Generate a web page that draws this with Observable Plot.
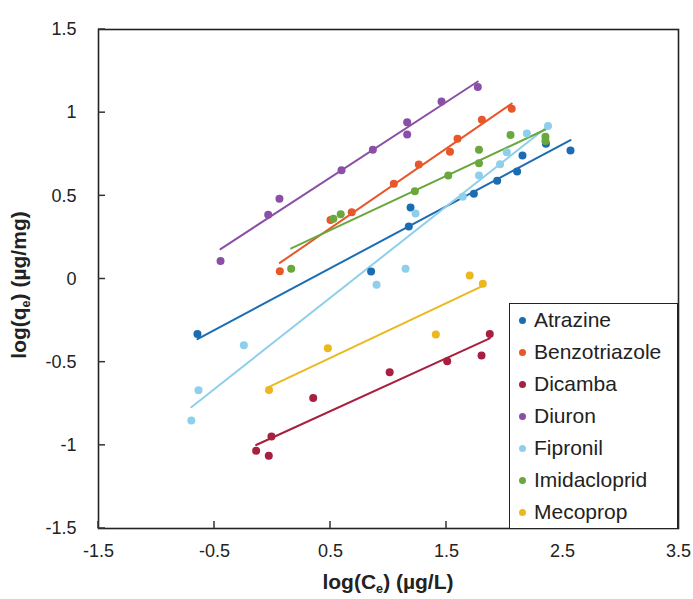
<!DOCTYPE html>
<html><head><meta charset="utf-8">
<script src="https://cdn.jsdelivr.net/npm/d3@7"></script>
<script src="https://cdn.jsdelivr.net/npm/@observablehq/plot@0.6"></script>
<style>
body{margin:0;background:#fff;}
#wrap{position:relative;width:693px;height:599px;font-family:"Liberation Sans",Arial,sans-serif;color:#222;overflow:hidden;}
.xtitle{position:absolute;left:98px;width:580px;top:569px;line-height:26px;text-align:center;font-weight:bold;font-size:21px;}
.ytitle{position:absolute;left:-131px;width:300px;top:272px;line-height:26px;text-align:center;font-weight:bold;font-size:21px;transform:rotate(-90deg);}
sub{font-size:0.6em;vertical-align:-0.3em;line-height:0;}
.legend{position:absolute;left:509px;top:303px;width:169px;height:226px;box-sizing:border-box;border:1.5px solid #222;background:#fff;}
.row{display:flex;align-items:center;height:32px;font-size:21px;white-space:nowrap;}
.sw{width:7px;height:7px;border-radius:50%;margin-left:9px;margin-right:8px;flex:none;}
</style></head><body><div id="wrap"></div>
<script>
const seriesNames = ["Atrazine","Benzotriazole","Dicamba","Diuron","Fipronil","Imidacloprid","Mecoprop"];
const seriesColors = ["#1b6db3","#e8572a","#a8203f","#8a4fa6","#8ecfeb","#6aa83e","#ebb81e"];
const xTicks = [-1.5,-0.5,0.5,1.5,2.5,3.5];
const yTicks = [-1.5,-1,-0.5,0,0.5,1,1.5];
const xDomain = [-1.5, 3.5];
const yDomain = [-1.5, 1.5];

const atrazine = [[-0.647,-0.33],[0.85,0.045],[1.175,0.315],[1.19,0.43],[1.736,0.512],[1.937,0.59],[2.109,0.647],[2.155,0.742],[2.357,0.813],[2.569,0.772]];
const benzotriazole = [[0.063,0.047],[0.5,0.355],[0.683,0.402],[1.046,0.572],[1.261,0.688],[1.53,0.765],[1.595,0.843],[1.805,0.957],[2.062,1.023]];
const dicamba = [[-0.141,-1.032],[-0.032,-1.062],[-0.009,-0.947],[0.351,-0.715],[1.01,-0.561],[1.506,-0.495],[1.802,-0.46],[1.873,-0.33]];
const diuron = [[-0.448,0.108],[-0.037,0.386],[0.06,0.482],[0.595,0.654],[0.865,0.777],[1.161,0.869],[1.161,0.943],[1.457,1.067],[1.77,1.155]];
const fipronil = [[-0.7,-0.85],[-0.638,-0.669],[-0.247,-0.398],[0.897,-0.034],[1.147,0.061],[1.233,0.394],[1.64,0.495],[1.78,0.622],[1.962,0.69],[2.02,0.762],[2.193,0.875],[2.375,0.92]];
const imidacloprid = [[0.161,0.061],[0.525,0.362],[0.588,0.39],[1.227,0.528],[1.515,0.622],[1.78,0.696],[1.78,0.777],[2.052,0.866],[2.353,0.855],[2.353,0.83]];
const mecoprop = [[-0.03,-0.667],[0.477,-0.416],[1.408,-0.334],[1.7,0.021],[1.813,-0.029]];

const seriesPoints = [atrazine, benzotriazole, dicamba, diuron, fipronil, imidacloprid, mecoprop];
const data = seriesNames.flatMap((name, i) => seriesPoints[i].map(([x, y]) => ({name, x, y})));

const tick = 7;
const fmt = d => String(d);
const chart = Plot.plot({
  width: 693, height: 599,
  marginLeft: 98, marginRight: 15, marginTop: 29, marginBottom: 71,
  style: {fontFamily: '"Liberation Sans", Arial, sans-serif', fontSize: "18px", color: "#222", background: "#fff"},
  x: {domain: xDomain, label: null},
  y: {domain: yDomain, label: null},
  color: {domain: seriesNames, range: seriesColors},
  marks: [
    Plot.axisX(xTicks, {tickFormat: fmt, tickSize: 0, tickPadding: 16}),
    Plot.axisY(yTicks, {tickFormat: fmt, tickSize: 0, tickPadding: 22}),
    Plot.frame({stroke: "#222", strokeWidth: 1.6}),
    Plot.linearRegressionY(data, {x: "x", y: "y", stroke: "name", ci: 0, strokeWidth: 2}),
    Plot.dot(data, {x: "x", y: "y", fill: "name", r: 4})
  ]
});
const wrap = document.getElementById("wrap");
wrap.appendChild(chart);

// inward tick marks placed with the chart's own scales
const sx = chart.scale("x"), sy = chart.scale("y");
const g = d3.select(chart).append("g").attr("stroke", "#333").attr("stroke-width", 1.5);
const yBase = sy.apply(yDomain[0]), xBase = sx.apply(xDomain[0]);
xTicks.forEach(v => g.append("line")
  .attr("x1", sx.apply(v)).attr("x2", sx.apply(v))
  .attr("y1", yBase).attr("y2", yBase - tick));
yTicks.forEach(v => g.append("line")
  .attr("x1", xBase).attr("x2", xBase + tick)
  .attr("y1", sy.apply(v)).attr("y2", sy.apply(v)));

const xt = document.createElement("div");
xt.className = "xtitle";
xt.innerHTML = "log(C<sub>e</sub>) (µg/L)";
wrap.appendChild(xt);
const yt = document.createElement("div");
yt.className = "ytitle";
yt.innerHTML = "log(q<sub>e</sub>) (µg/mg)";
wrap.appendChild(yt);

const lg = document.createElement("div");
lg.className = "legend";
seriesNames.forEach((n, i) => {
  const r = document.createElement("div");
  r.className = "row";
  r.innerHTML = `<span class="sw" style="background:${seriesColors[i]}"></span><span>${n}</span>`;
  lg.appendChild(r);
});
wrap.appendChild(lg);
</script></body></html>
